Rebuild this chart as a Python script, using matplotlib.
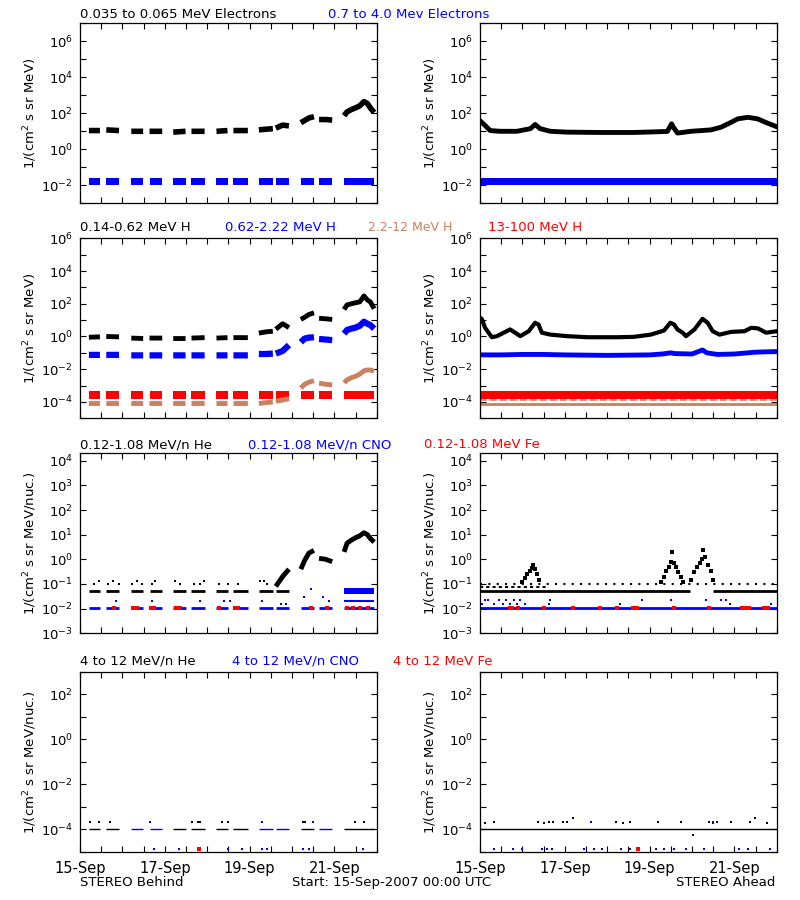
import numpy as np
import matplotlib.pyplot as plt

BLUE = '#0000ff'
RED = '#ff0000'
SIENNA = '#cc8062'

# x axis: days after 15-Sep-2007 00:00 UTC
tick_days = [0, 2, 4, 6]
tick_names = ['15-Sep', '17-Sep', '19-Sep', '21-Sep']

# STEREO Behind only has data inside these windows
behind_windows = [(0.21, 0.47), (0.62, 0.92), (1.21, 1.49), (1.64, 1.94), (2.20, 2.49),
                  (2.63, 2.94), (3.22, 3.48), (3.62, 3.96), (4.22, 4.55), (4.62, 4.93),
                  (5.21, 5.52), (5.64, 5.95), (6.23, 6.94)]
t_behind = [0.21, 0.47, 0.62, 0.92, 1.21, 1.49, 1.64, 1.94, 2.20, 2.49, 2.63, 2.94,
            3.22, 3.48, 3.62, 3.96, 4.22, 4.38, 4.55, 4.62, 4.78, 4.93,
            5.21, 5.30, 5.40, 5.52, 5.64, 5.80, 5.95,
            6.23, 6.30, 6.40, 6.50, 6.60, 6.70, 6.78, 6.85, 6.94]

# ---- electrons
e_lo_behind = [11, 11, 12, 11, 10, 10, 10, 10, 9, 10, 10, 10, 10, 11, 11, 11,
               12, 13, 14, 15, 22, 20, 30, 40, 55, 65, 45, 45, 42,
               74, 120, 160, 200, 260, 450, 350, 200, 110]
e_hi_band = (0.01, 0.026)
t_e_ahead = [0, 0.12, 0.24, 0.47, 0.87, 1.19, 1.30, 1.42, 1.66, 2.05, 2.84, 3.63, 4.42,
             4.52, 4.56, 4.66, 4.98, 5.45, 5.69, 5.93, 6.08, 6.32, 6.55, 6.79, 7.0]
e_lo_ahead = [39, 21, 11, 10, 10, 14, 24, 14, 10, 9, 8.6, 8.6, 9.8,
              26, 17, 8, 10, 12, 17, 32, 49, 60, 49, 28, 18]

# ---- protons
p_lo_behind = [0.9, 0.95, 1.0, 0.95, 0.8, 0.75, 0.8, 0.8, 0.75, 0.75, 0.8, 0.85, 0.8, 0.85, 0.85, 0.85,
               1.6, 1.9, 2.1, 2.8, 6.0, 3.5, 11, 15, 22, 28, 13, 12, 11,
               45, 85, 100, 115, 130, 300, 170, 130, 50]
p_mid_behind = [0.075, 0.075, 0.075, 0.075, 0.07, 0.07, 0.07, 0.07, 0.07, 0.07, 0.07, 0.07,
                0.07, 0.07, 0.07, 0.07, 0.085, 0.085, 0.09, 0.09, 0.13, 0.3,
                0.45, 0.75, 0.85, 0.9, 0.7, 0.65, 0.6,
                1.5, 2.5, 3.0, 3.5, 4.5, 8.0, 6.0, 5.0, 3.0]
p_hi_behind = [8e-5] * 16 + [8e-5, 9e-5, 1e-4, 1.1e-4, 1.3e-4, 1.6e-4,
                             7e-4, 1.2e-3, 1.6e-3, 2e-3, 1.4e-3, 1.2e-3, 1.1e-3,
                             1.5e-3, 2.2e-3, 3e-3, 3.7e-3, 5e-3, 8e-3, 9e-3, 9e-3, 7.5e-3]
p_top_band = (1.5e-4, 4.5e-4)
t_p_ahead = [0.0, 0.04, 0.12, 0.28, 0.40, 0.63, 0.71, 0.83, 0.95, 1.15, 1.30, 1.38, 1.46, 1.66,
             2.05, 2.53, 3.24, 3.63, 4.03, 4.34, 4.49, 4.58, 4.66, 4.78, 4.86, 5.06, 5.25,
             5.37, 5.49, 5.65, 5.92, 6.24, 6.40, 6.56, 6.75, 7.0]
p_lo_ahead = [14, 12, 3.4, 0.9, 1.05, 2.1, 2.7, 1.7, 1.05, 2.1, 6.9, 5.4, 1.7, 1.3,
              1.05, 0.9, 0.9, 0.95, 1.3, 2.3, 6.9, 5.4, 2.7, 1.7, 1.05, 2.7, 12,
              6.9, 2.1, 1.3, 1.9, 2.1, 3.4, 3.1, 1.7, 2.1]
t_pm_ahead = [0, 0.5, 1.0, 1.5, 2.0, 3.0, 4.0, 4.3, 4.5, 4.6, 5.0, 5.25, 5.35, 5.6, 6.0, 6.5, 7.0]
p_mid_ahead = [0.075, 0.075, 0.08, 0.08, 0.075, 0.07, 0.075, 0.085, 0.1, 0.09, 0.085,
               0.15, 0.1, 0.08, 0.085, 0.11, 0.12]
p_hi_ahead_levels = [8e-5, 1.25e-4]

# ---- 0.12-1.08 MeV/n ions
he_lo_behind = [0.052] * 19 + [0.08, 0.2, 0.4, 0.4, 0.9, 1.8, 2.3, 1.1, 1.0, 0.8,
                               2.0, 4.5, 6.0, 7.5, 9.0, 12, 10, 7, 5]
he_base = 0.052
he_dots_behind_t = [0.32, 0.44, 0.65, 0.79, 0.91, 1.22, 1.34, 1.46, 1.70, 1.78, 2.25, 2.37,
                    2.68, 2.83, 2.92, 3.28, 3.48, 3.73, 4.25, 4.34, 4.42, 4.70]
he_dots_behind_v = [0.1, 0.13, 0.1, 0.13, 0.1, 0.1, 0.13, 0.1, 0.1, 0.13, 0.13, 0.1,
                    0.1, 0.1, 0.13, 0.1, 0.1, 0.1, 0.13, 0.13, 0.1, 0.13]
cno_base = 0.011
cno_dots_behind_t = [0.86, 1.70, 2.84, 3.40, 3.55, 4.30, 4.74, 4.86, 5.29, 5.45, 5.73, 5.88]
cno_dots_behind_v = [0.02, 0.02, 0.02, 0.02, 0.02, 0.02, 0.015, 0.015, 0.03, 0.06, 0.03, 0.02]
cno_band_last = (0.038, 0.07)
fe_behind_t = [0.81, 1.25, 1.35, 1.68, 1.75, 2.27, 2.35, 3.27, 3.65, 3.72, 5.45, 5.83,
               6.30, 6.45, 6.60, 6.80]
he_lo_ahead_levels = [0.077, 0.1]
he_ahead_events = [
    ([1.00, 1.06, 1.12, 1.17, 1.22, 1.26, 1.30, 1.35, 1.40],
     [0.12, 0.18, 0.25, 0.35, 0.45, 0.6, 0.4, 0.25, 0.15]),
    ([4.28, 4.34, 4.40, 4.45, 4.50, 4.54, 4.58, 4.63, 4.68, 4.74, 4.80],
     [0.12, 0.2, 0.35, 0.5, 0.8, 2.0, 0.7, 0.5, 0.3, 0.2, 0.12]),
    ([4.98, 5.05, 5.12, 5.18, 5.23, 5.27, 5.32, 5.38, 5.44, 5.50],
     [0.15, 0.3, 0.5, 0.7, 1.0, 2.5, 1.2, 0.6, 0.35, 0.15]),
]
he_base_ahead_windows = [(0.0, 4.95), (5.5, 7.0)]
cno_dots_ahead_t = [0.05, 0.12, 0.18, 0.32, 0.46, 0.55, 0.62, 0.70, 0.80, 0.88, 0.95, 1.05,
                    1.62, 1.66, 3.30, 3.83, 4.50, 5.33, 5.68, 5.80, 5.90, 6.87]
cno_dots_ahead_v = [0.015, 0.023, 0.023, 0.015, 0.023, 0.015, 0.023, 0.015, 0.023, 0.015,
                    0.023, 0.015, 0.015, 0.023, 0.015, 0.023, 0.023, 0.023, 0.023, 0.023,
                    0.015, 0.015]
fe_ahead_t = [0.70, 0.76, 0.90, 1.50, 2.20, 2.84, 3.24, 3.62, 3.70, 4.58, 5.41, 6.18, 6.26,
              6.35, 6.70, 6.80]

# ---- 4 to 12 MeV/n ions
hi_base = 1e-4
hi_blue_windows_behind = [2, 3, 8, 9, 11]
he_hi_behind_t = [0.24, 0.46, 0.71, 2.65, 2.78, 2.83, 3.36, 3.48, 5.25, 5.31, 6.48, 6.71]
cno_hi_behind_t = [1.66, 4.30, 5.49]
cno_low_behind_t = [1.74, 2.33, 3.48, 3.83, 4.30, 4.42, 5.25, 5.41, 6.67]
fe_low_behind_t = [2.80]
he_hi_ahead_t = [0.12, 0.34, 1.38, 1.52, 1.62, 1.72, 1.97, 2.05, 2.20, 3.22, 3.38, 3.55,
                 4.19, 4.74, 5.41, 5.49, 5.92, 6.36, 6.48, 6.78]
he_hi_ahead_v = [1.8e-4, 2e-4, 2e-4, 1.8e-4, 2e-4, 2e-4, 2e-4, 2e-4, 3e-4, 2e-4, 1.8e-4, 2e-4,
                 2e-4, 2e-4, 2e-4, 1.8e-4, 2e-4, 2e-4, 3e-4, 1.8e-4]
he_dip_ahead = (5.02, 5.6e-5)
cno_hi_ahead_t = [2.62, 5.49, 5.60]
cno_low_ahead_t = [0.32, 0.79, 0.99, 1.46, 1.58, 1.70, 2.45, 2.68, 2.88, 3.32, 3.55, 4.15,
                   4.34, 4.58, 4.86, 5.29, 6.12, 6.32, 6.84]
fe_low_ahead_t = [3.73]
low_level = 1.3e-5


def by_window(t, v, windows):
    # break the line between Behind data windows
    tt, vv = [], []
    for a, b in windows:
        for x, y in zip(t, v):
            if a - 1e-6 <= x <= b + 1e-6:
                tt.append(x)
                vv.append(y)
        tt.append(np.nan)
        vv.append(np.nan)
    return tt, vv


fig = plt.figure(figsize=(8, 9), dpi=100)
W, H = 296.7, 180.0
col_x = [80, 480]
row_top = [23.3, 238.3, 453.3, 671.7]
ylims = [(1e-3, 1e7), (1e-5, 1e6), (1e-3, 2e4), (1e-5, 1e3)]
labeled = [range(-2, 7, 2), range(-4, 7, 2), range(-3, 5), range(-4, 3, 2)]
ylabels = ['1/(cm$^2$ s sr MeV)', '1/(cm$^2$ s sr MeV)',
           '1/(cm$^2$ s sr MeV/nuc.)', '1/(cm$^2$ s sr MeV/nuc.)']

axes = []
for r in range(4):
    row = []
    for c in range(2):
        ax = fig.add_axes([col_x[c] / 800, 1 - (row_top[r] + H) / 900, W / 800, H / 900])
        ax.set_yscale('log')
        ax.set_ylim(ylims[r])
        ax.set_xlim(0, 7)
        lo, hi = np.log10(ylims[r])
        exps = list(range(int(np.ceil(lo)), int(np.floor(hi)) + 1))
        ax.set_yticks([10.0 ** e for e in exps])
        ax.set_yticklabels(['$10^{%d}$' % e if e in labeled[r] else '' for e in exps])
        ax.minorticks_off()
        xt = np.arange(0, 7.01, 0.5)
        ax.set_xticks(xt)
        if r == 3:
            ax.set_xticklabels([tick_names[tick_days.index(int(x))] if x in tick_days else '' for x in xt])
        else:
            ax.set_xticklabels([])
        ax.tick_params(which='both', direction='in', top=True, right=True, length=4,
                       width=0.8, labelsize=9.5, pad=5)
        ax.tick_params(axis='x', labelsize=10.5, pad=7)
        for s in ax.spines.values():
            s.set_linewidth(0.9)
        ax.text(-50 / W, 0.5, ylabels[r], rotation=90, ha='center', va='center',
                transform=ax.transAxes, fontsize=9.5)
        row.append(ax)
    axes.append(row)

# row 1: electrons
ax = axes[0][0]
ax.plot(*by_window(t_behind, e_lo_behind, behind_windows), color='k', lw=4, solid_capstyle='butt')
for a, b in behind_windows:
    ax.fill_between([a, b], e_hi_band[0], e_hi_band[1], color=BLUE, lw=0)
ax = axes[0][1]
ax.plot(t_e_ahead, e_lo_ahead, color='k', lw=3.5)
ax.fill_between([0, 7], e_hi_band[0], e_hi_band[1], color=BLUE, lw=0)

# row 2: protons
ax = axes[1][0]
ax.plot(*by_window(t_behind, p_hi_behind, behind_windows), color=SIENNA, lw=3.5,
        solid_capstyle='butt')
for a, b in behind_windows:
    ax.fill_between([a, b], p_top_band[0], p_top_band[1], color=RED, lw=0)
ax.plot(*by_window(t_behind, p_mid_behind, behind_windows), color=BLUE, lw=4.5,
        solid_capstyle='butt')
ax.plot(*by_window(t_behind, p_lo_behind, behind_windows), color='k', lw=3.5,
        solid_capstyle='butt')
ax = axes[1][1]
ax.hlines(p_hi_ahead_levels[0], 0, 7, color=SIENNA, lw=2)
ax.fill_between([0, 7], p_top_band[0], p_top_band[1], color=RED, lw=0)
ax.hlines(p_hi_ahead_levels[1], 0, 7, color=SIENNA, lw=1.2, linestyles=(0, (4, 2)))
ax.plot(t_pm_ahead, p_mid_ahead, color=BLUE, lw=3.5)
ax.plot(t_p_ahead, p_lo_ahead, color='k', lw=3)

# row 3: 0.12-1.08 MeV/n ions
ax = axes[2][0]
for a, b in behind_windows[:10]:
    ax.hlines(he_base, a, b, color='k', lw=2)
for a, b in behind_windows:
    ax.hlines(cno_base, a, b, color=BLUE, lw=2)
a, b = behind_windows[-1]
ax.fill_between([a, b], cno_band_last[0], cno_band_last[1], color=BLUE, lw=0)
ax.hlines(0.02, a, b, color=BLUE, lw=1.5)
ax.plot(cno_dots_behind_t, cno_dots_behind_v, 's', color=BLUE, ms=2, mew=0)
ax.plot(fe_behind_t, [cno_base] * len(fe_behind_t), 's', color=RED, ms=2.5, mew=0)
ax.plot(he_dots_behind_t, he_dots_behind_v, 's', color='k', ms=2, mew=0)
ax.plot(*by_window(t_behind, he_lo_behind, behind_windows[9:]), color='k', lw=3.5,
        solid_capstyle='butt')
ax = axes[2][1]
for a, b in he_base_ahead_windows:
    ax.hlines(he_base, a, b, color='k', lw=2)
ax.hlines(he_lo_ahead_levels[0], 0, 1.6, color='k', lw=1.5, linestyles=(0, (1.5, 1.5)))
ax.hlines(he_lo_ahead_levels[1], 0, 7, color='k', lw=1.5, linestyles=(0, (1, 3)))
for et, ev in he_ahead_events:
    ax.plot(et, ev, 's', color='k', ms=3, mew=0)
ax.hlines(cno_base, 0, 7, color=BLUE, lw=2)
ax.plot(cno_dots_ahead_t, cno_dots_ahead_v, 's', color=BLUE, ms=2, mew=0)
ax.plot(fe_ahead_t, [cno_base] * len(fe_ahead_t), 's', color=RED, ms=2.5, mew=0)

# row 4: 4 to 12 MeV/n ions
ax = axes[3][0]
for i, (a, b) in enumerate(behind_windows):
    ax.hlines(hi_base, a, b, color=BLUE if i in hi_blue_windows_behind else 'k', lw=1)
ax.plot(he_hi_behind_t, [2e-4] * len(he_hi_behind_t), 's', color='k', ms=2, mew=0)
ax.plot(cno_hi_behind_t, [2e-4] * len(cno_hi_behind_t), 's', color=BLUE, ms=2, mew=0)
ax.plot(cno_low_behind_t, [low_level] * len(cno_low_behind_t), 's', color=BLUE, ms=2, mew=0)
ax.plot(fe_low_behind_t, [low_level] * len(fe_low_behind_t), 's', color=RED, ms=2.5, mew=0)
ax = axes[3][1]
ax.hlines(hi_base, 0, 7, color='k', lw=1)
ax.plot(he_hi_ahead_t, he_hi_ahead_v, 's', color='k', ms=2, mew=0)
ax.plot([he_dip_ahead[0]], [he_dip_ahead[1]], 's', color='k', ms=2, mew=0)
ax.plot(cno_hi_ahead_t, [2e-4] * len(cno_hi_ahead_t), 's', color=BLUE, ms=2, mew=0)
ax.plot(cno_low_ahead_t, [low_level] * len(cno_low_ahead_t), 's', color=BLUE, ms=2, mew=0)
ax.plot(fe_low_ahead_t, [low_level] * len(fe_low_ahead_t), 's', color=RED, ms=2.5, mew=0)


def ftext(x, y, s, color='k', ha='left', size=9.5):
    fig.text(x / 800, 1 - y / 900, s, color=color, ha=ha, va='baseline', fontsize=size)


ftext(80, 18, '0.035 to 0.065 MeV Electrons')
ftext(328, 18, '0.7 to 4.0 Mev Electrons', BLUE)
ftext(80, 231, '0.14-0.62 MeV H')
ftext(225, 231, '0.62-2.22 MeV H', BLUE)
ftext(368, 231, '2.2-12 MeV H', SIENNA, size=9)
ftext(488, 231, '13-100 MeV H', RED)
ftext(80, 448, '0.12-1.08 MeV/n He')
ftext(248, 448, '0.12-1.08 MeV/n CNO', BLUE)
ftext(424, 448, '0.12-1.08 MeV Fe', RED)
ftext(80, 665, '4 to 12 MeV/n He')
ftext(232, 665, '4 to 12 MeV/n CNO', BLUE)
ftext(393, 665, '4 to 12 MeV Fe', RED)
ftext(80, 886, 'STEREO Behind')
ftext(292, 886, 'Start: 15-Sep-2007 00:00 UTC')
ftext(775, 886, 'STEREO Ahead', ha='right')

fig.savefig('out.png', dpi=100)
